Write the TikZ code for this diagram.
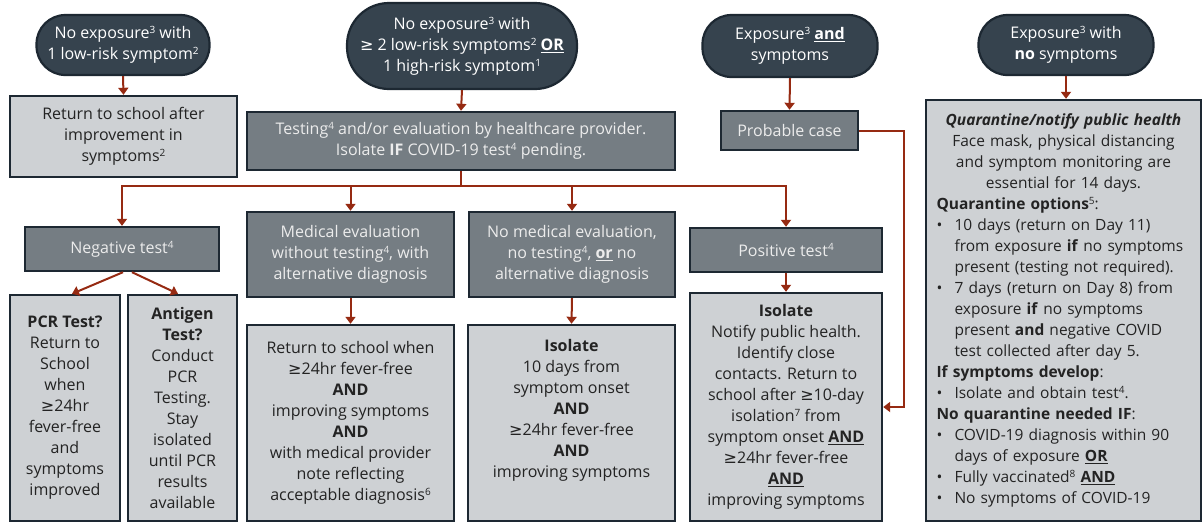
\documentclass[tikz,border=0pt]{standalone}
\usepackage{fontspec}
\setmainfont{Open Sans}
\newfontfamily\dejavu{DejaVu Sans}
\newcommand{\gq}{{\dejavu ≥}}
\newcommand{\bul}{\makebox[18pt][l]{\textbullet}}
\newcommand{\ind}{\hspace*{18pt}}
\newcommand{\ubf}[1]{\underline{\textbf{#1}}}
\newcommand{\sps}[1]{\raisebox{0.62ex}{\fontsize{10}{10}\selectfont #1}}
\usetikzlibrary{arrows.meta,calc}
\definecolor{darkc}{HTML}{36434E}
\definecolor{bordc}{HTML}{1D2832}
\definecolor{midc}{HTML}{757D83}
\definecolor{lightc}{HTML}{CED1D4}
\definecolor{redc}{HTML}{962A12}
\definecolor{midtext}{HTML}{ECECEC}
\definecolor{darktext}{HTML}{232323}
\begin{document}
\begin{tikzpicture}[x=1pt,y=1pt,
  every node/.style={font=\fontsize{16}{21}\selectfont},
  oval/.style={draw=bordc, fill=darkc, line width=2.2pt, rounded corners=29pt, text=white, align=center, inner sep=0pt},
  midbox/.style={draw=bordc, fill=midc, line width=2.4pt, text=midtext, align=center, inner sep=0pt},
  lightbox/.style={draw=bordc, fill=lightc, line width=2.4pt, text=darktext, align=center, inner sep=0pt},
  conn/.style={draw=redc, line width=2pt, -{Triangle[length=7pt,width=10pt]}},
  wire/.style={draw=redc, line width=2pt}]
\useasboundingbox (0,0) rectangle (1203,-523);

% top ovals
\node[oval, minimum width=173pt, minimum height=60pt] (o1) at (123,-45)
  {No exposure\sps{3} with\\1 low-risk symptom\sps{2}};
\node[oval, rounded corners=42pt, minimum width=230pt, minimum height=86pt] (o2) at (462,-46)
  {No exposure\sps{3} with\\\gq{} 2 low-risk symptoms\sps{2} \ubf{OR}\\1 high-risk symptom\sps{1}};
\node[oval, minimum width=175pt, minimum height=62pt] (o3) at (790,-46)
  {Exposure\sps{3} \ubf{and}\\symptoms};
\node[oval, minimum width=175pt, minimum height=60pt] (o4) at (1066,-45)
  {Exposure\sps{3} with\\\textbf{no} symptoms};

% second row
\node[lightbox, minimum width=227pt, minimum height=81pt] (r1) at (123.5,-136.5)
  {Return to school after\\improvement in\\symptoms\sps{2}};
\node[midbox, minimum width=428pt, minimum height=58pt] (t) at (461,-141)
  {Testing\sps{4} and/or evaluation by healthcare provider.\\Isolate \textbf{IF} COVID-19 test\sps{4} pending.};
\node[midbox, minimum width=137pt, minimum height=39pt] (p) at (789.5,-130.5)
  {Probable case};
\node[lightbox, minimum width=275pt, minimum height=421pt, text width=254pt,
      font=\fontsize{15.5}{21}\selectfont] (q) at (1063.5,-310.5)
  {{\centering\textbf{\textit{Quarantine/notify public health}}\\
   Face mask, physical distancing\\
   and symptom monitoring are\\
   essential for 14 days.\par}
   \raggedright
   \textbf{Quarantine options}\sps{5}:\\
   \bul 10 days (return on Day 11)\\
   \ind from exposure \textbf{if} no symptoms\\
   \ind present (testing not required).\\
   \bul 7 days (return on Day 8) from\\
   \ind exposure \textbf{if} no symptoms\\
   \ind present \textbf{and} negative COVID\\
   \ind test collected after day 5.\\
   \textbf{If symptoms develop}:\\
   \bul Isolate and obtain test\sps{4}.\\
   \textbf{No quarantine needed IF}:\\
   \bul COVID-19 diagnosis within 90\\
   \ind days of exposure \ubf{OR}\\
   \bul Fully vaccinated\sps{8} \ubf{AND}\\
   \bul No symptoms of COVID-19\par};

% third row
\node[midbox, minimum width=194pt, minimum height=44pt] (neg) at (122,-249)
  {Negative test\sps{4}};
\node[midbox, minimum width=207pt, minimum height=85pt] (med) at (350.5,-254.5)
  {Medical evaluation\\without testing\sps{4}, with\\alternative diagnosis};
\node[midbox, minimum width=206pt, minimum height=85pt] (nomed) at (572,-254.5)
  {No medical evaluation,\\no testing\sps{4}, \ubf{or} no\\alternative diagnosis};
\node[midbox, minimum width=192pt, minimum height=44pt] (pos) at (786,-250)
  {Positive test\sps{4}};

% bottom row
\node[lightbox, minimum width=110pt, minimum height=226pt] (pcr) at (65,-408)
  {\textbf{PCR Test?}\\Return to\\School\\when\\\gq24hr\\fever-free\\and\\symptoms\\improved};
\node[lightbox, minimum width=109pt, minimum height=226pt] (ant) at (182.5,-408)
  {\textbf{Antigen}\\\textbf{Test?}\\Conduct\\PCR\\Testing.\\Stay\\isolated\\until PCR\\results\\available};
\node[lightbox, minimum width=207pt, minimum height=196pt] (ret) at (350.5,-423)
  {Return to school when\\\gq24hr fever-free\\\textbf{AND}\\improving symptoms\\\textbf{AND}\\with medical provider\\note reflecting\\acceptable diagnosis\sps{6}};
\node[lightbox, minimum width=207pt, minimum height=196pt] (iso) at (571.5,-423)
  {\textbf{Isolate}\\10 days from\\symptom onset\\\textbf{AND}\\\gq24hr fever-free\\\textbf{AND}\\improving symptoms\\[8pt]};
\node[lightbox, minimum width=192pt, minimum height=228pt] (isop) at (786,-407)
  {\textbf{Isolate}\\Notify public health.\\Identify close\\contacts. Return to\\school after \gq10-day\\isolation\sps{7} from\\symptom onset \ubf{AND}\\\gq24hr fever-free\\\ubf{AND}\\improving symptoms};

% connectors
\draw[conn] (o1.south) -- (r1.north);
\draw[conn] (o2.south) -- (t.north);
\draw[conn] (o3.south) -- (p.north);
\draw[conn] (o4.south) -- (o4.south |- q.north);
\coordinate (br) at (461,-186);
\draw[wire] (t.south) -- (br);
\draw[conn] (br) -| (neg.north);
\draw[conn] (br) -| (med.north);
\draw[conn] (br) -| (nomed.north);
\draw[conn] (br) -| (pos.north);
\draw[conn] ([xshift=1pt]neg.south) -- ([xshift=7pt]pcr.north);
\draw[conn] ([xshift=10pt]neg.south) -- ([xshift=-4.5pt]ant.north);
\draw[conn] (med.south) -- (ret.north);
\draw[conn] (nomed.south) -- (iso.north);
\draw[conn] (pos.south) -- (isop.north);
\draw[conn] (p.east) -- ++(45,0) |- (isop.east);
\end{tikzpicture}
\end{document}
